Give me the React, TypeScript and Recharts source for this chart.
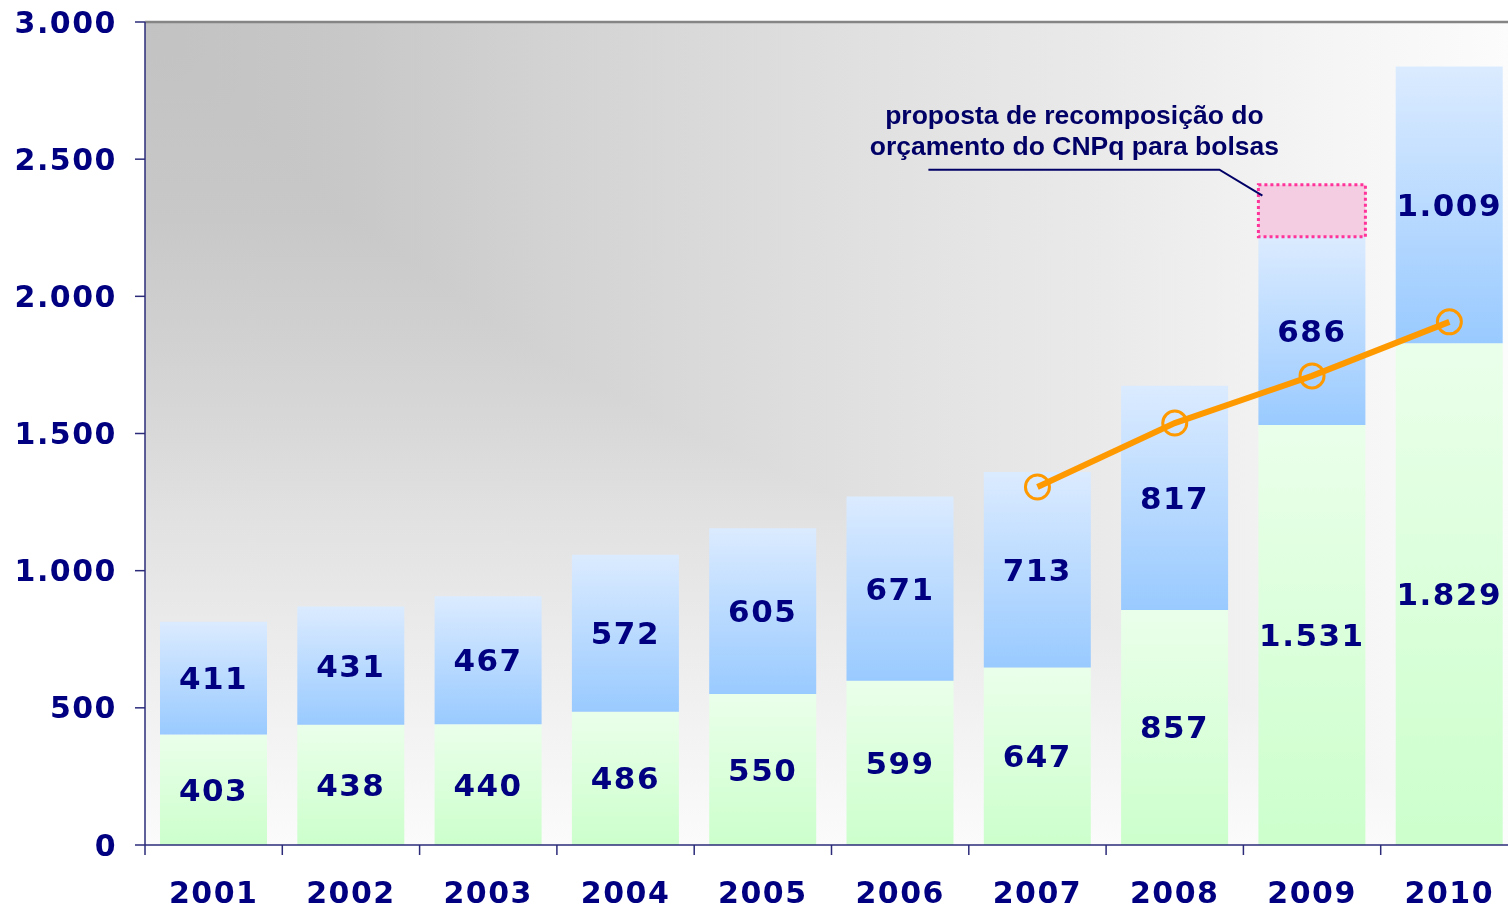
import React from 'react'
import {
  ComposedChart,
  Bar,
  Line,
  XAxis,
  YAxis,
  CartesianGrid,
  LabelList,
  ReferenceLine,
  ReferenceArea
} from 'recharts'

const years = ['2001', '2002', '2003', '2004', '2005', '2006', '2007', '2008', '2009', '2010']
const baseValues = [403, 438, 440, 486, 550, 599, 647, 857, 1531, 1829]
const extraValues = [411, 431, 467, 572, 605, 671, 713, 817, 686, 1009]
const proposalValues = [null, null, null, null, null, null, null, null, 190, null]
const trendValues = [null, null, null, null, null, null, 1305, 1538, 1710, 1907]
const yTicks = [0, 500, 1000, 1500, 2000, 2500, 3000]

const annotationLines = ['proposta de recomposição do', 'orçamento do CNPq para bolsas']

const data = years.map((year, i) => ({
  year,
  base: baseValues[i],
  extra: extraValues[i],
  proposal: proposalValues[i],
  trend: trendValues[i]
}))

const NAVY = '#000080'
const AXIS = '#2b2b7a'
const FONT = '"DejaVu Sans", Verdana, sans-serif'

const fmt = (v: any) => String(v).replace(/\B(?=(\d{3})+(?!\d))/g, '.')

const XTick = (props: any) => {
  const { x, y, payload } = props
  const off = payload?.offset ?? 0
  return (
    <g>
      <line x1={x - off} x2={x - off} y1={y} y2={y + 10} stroke={AXIS} strokeWidth={1.5} />
      <text
        x={x}
        y={y + 58}
        textAnchor="middle"
        fill={NAVY}
        fontSize={30}
        fontWeight="bold"
        fontFamily={FONT}
        style={{ letterSpacing: 1.5 }}
      >
        {payload.value}
      </text>
    </g>
  )
}

// callout anchored on the proposal box (top-left corner)
const Callout = (props: any) => {
  const { x, y, value } = props
  if (value == null) return null
  const bx = x - 39
  const by = y - 15
  const tx = x - 184
  return (
    <g>
      <polyline
        points={`${x - 330},${by} ${bx},${by} ${x + 4},${y + 11}`}
        fill="none"
        stroke="#000066"
        strokeWidth={2}
      />
      <text
        textAnchor="middle"
        fill="#000066"
        fontSize={26.5}
        fontWeight="bold"
        fontFamily='"Liberation Sans", Arial, sans-serif'
      >
        <tspan x={tx} y={y - 61}>{annotationLines[0]}</tspan>
        <tspan x={tx} y={y - 30}>{annotationLines[1]}</tspan>
      </text>
    </g>
  )
}

const labelProps = {
  position: 'center' as const,
  fill: NAVY,
  fontSize: 31,
  fontWeight: 'bold',
  fontFamily: FONT,
  formatter: fmt,
  style: { letterSpacing: 1.5 }
}

export default function App() {
  return (
    <div style={{ position: 'absolute', left: 0, top: 0, width: 1508, height: 909, overflow: 'hidden', background: '#fff' }}>
      <style>{'.bg-lighten { mix-blend-mode: lighten; }'}</style>
      <ComposedChart
        width={1520}
        height={909}
        data={data}
        margin={{ top: 22, right: 2, left: 0, bottom: 0 }}
        barSize={107}
      >
        <defs>
          {/* corner gradient: max of a horizontal and a vertical ramp */}
          <linearGradient id="bgH" x1="0" y1="0" x2="1" y2="0">
            <stop offset="0%" stopColor="#c2c2c2" />
            <stop offset="15%" stopColor="#c8c8c8" />
            <stop offset="30%" stopColor="#d3d3d3" />
            <stop offset="50%" stopColor="#dfdfdf" />
            <stop offset="70%" stopColor="#eaeaea" />
            <stop offset="85%" stopColor="#f4f4f4" />
            <stop offset="100%" stopColor="#fcfcfc" />
          </linearGradient>
          <linearGradient id="bgV" x1="0" y1="0" x2="0" y2="1">
            <stop offset="0%" stopColor="#c2c2c2" />
            <stop offset="24%" stopColor="#c8c8c8" />
            <stop offset="37%" stopColor="#d0d0d0" />
            <stop offset="49%" stopColor="#d8d8d8" />
            <stop offset="61%" stopColor="#e2e2e2" />
            <stop offset="73%" stopColor="#eaeaea" />
            <stop offset="85%" stopColor="#f2f2f2" />
            <stop offset="100%" stopColor="#fbfbfb" />
          </linearGradient>
          <linearGradient id="blueGrad" x1="0" y1="0" x2="0" y2="1">
            <stop offset="0%" stopColor="#dbebff" />
            <stop offset="100%" stopColor="#99caff" />
          </linearGradient>
          <linearGradient id="greenGrad" x1="0" y1="0" x2="0" y2="1">
            <stop offset="0%" stopColor="#eaffea" />
            <stop offset="100%" stopColor="#ccffcc" />
          </linearGradient>
        </defs>
        <CartesianGrid horizontal={false} vertical={false} fill="url(#bgH)" stroke="none" />
        <ReferenceArea
          y1={0}
          y2={3000}
          fill="url(#bgV)"
          fillOpacity={1}
          stroke="none"
          className="bg-lighten"
        />
        <XAxis
          dataKey="year"
          height={64}
          axisLine={{ stroke: AXIS, strokeWidth: 1.5 }}
          tickLine={false}
          tickSize={0}
          tickMargin={0}
          tick={<XTick />}
          interval={0}
        />
        <YAxis
          width={145}
          domain={[0, 3000]}
          ticks={yTicks}
          tickFormatter={fmt}
          axisLine={{ stroke: AXIS, strokeWidth: 1.5 }}
          tickLine={{ stroke: AXIS, strokeWidth: 1.5 }}
          tickSize={10}
          tickMargin={18}
          tick={{ fill: NAVY, fontSize: 30, fontWeight: 'bold', fontFamily: FONT, style: { letterSpacing: 1.5 } } as any}
        />
        <ReferenceLine y={3000} stroke="#858585" strokeWidth={2.5} />
        <Bar dataKey="base" stackId="a" fill="url(#greenGrad)" isAnimationActive={false}>
          <LabelList dataKey="base" {...labelProps} />
        </Bar>
        <Bar dataKey="extra" stackId="a" fill="url(#blueGrad)" isAnimationActive={false}>
          <LabelList dataKey="extra" {...labelProps} />
        </Bar>
        <Bar
          dataKey="proposal"
          stackId="a"
          fill="#f5cde2"
          stroke="#ff3399"
          strokeWidth={3}
          strokeDasharray="3 3"
          isAnimationActive={false}
        >
          <LabelList dataKey="proposal" content={<Callout />} />
        </Bar>
        <Line
          dataKey="trend"
          stroke="#ff9900"
          strokeWidth={6}
          dot={{ r: 12, stroke: '#ff9900', strokeWidth: 3, fill: 'none' }}
          activeDot={false}
          isAnimationActive={false}
        />
      </ComposedChart>
    </div>
  )
}
